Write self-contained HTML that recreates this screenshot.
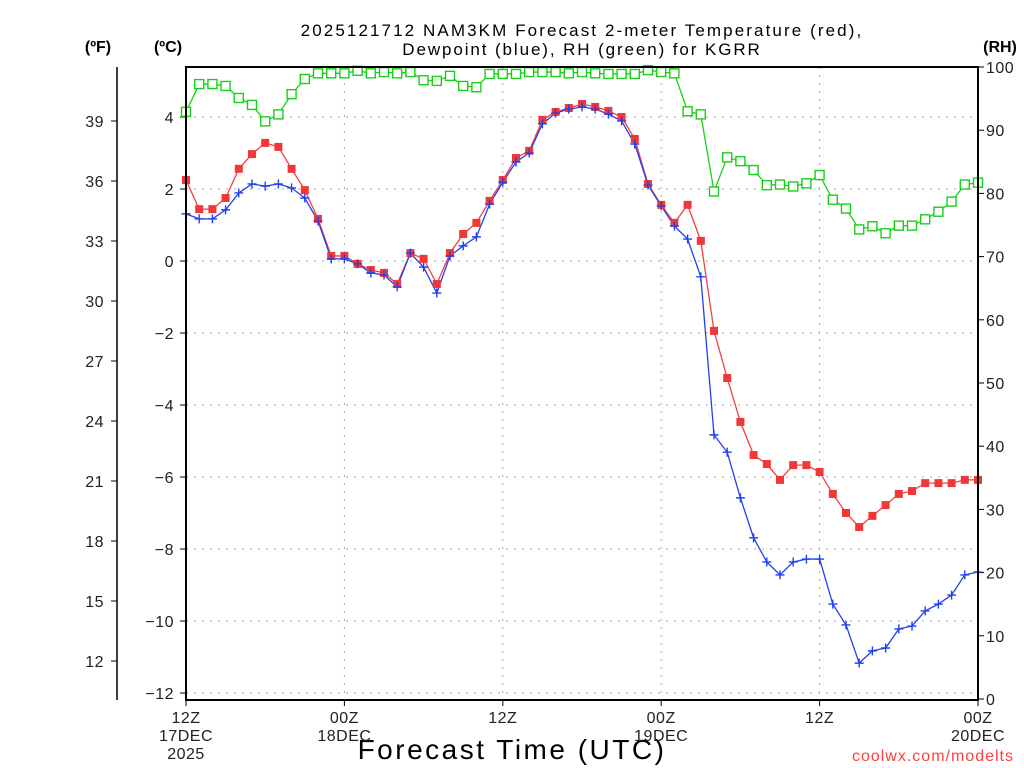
<!DOCTYPE html>
<html><head><meta charset="utf-8"><title>NAM3KM KGRR</title>
<style>html,body{margin:0;padding:0;background:#fff}svg{display:block}</style></head>
<body>
<svg id="chart" width="1024" height="768" viewBox="0 0 1024 768" xmlns="http://www.w3.org/2000/svg" font-family="Liberation Sans, sans-serif">
<rect width="1024" height="768" fill="#fff"/>
<text x="582" y="36" text-anchor="middle" font-size="17" letter-spacing="2.1" fill="#000">2025121712 NAM3KM Forecast 2-meter Temperature (red),</text>
<text x="582" y="55" text-anchor="middle" font-size="17" letter-spacing="1.9" fill="#000">Dewpoint (blue), RH (green) for KGRR</text>
<text x="98" y="52" text-anchor="middle" font-size="16" font-weight="bold">(ºF)</text>
<text x="168" y="52" text-anchor="middle" font-size="16" font-weight="bold">(ºC)</text>
<text x="1000" y="52" text-anchor="middle" font-size="16" font-weight="bold">(RH)</text>
<text x="512" y="759" text-anchor="middle" font-size="28" letter-spacing="2.5">Forecast Time (UTC)</text>
<text x="1014" y="761" text-anchor="end" font-size="16" fill="#ff4040" letter-spacing="1">coolwx.com/modelts</text>
<g id="grid"></g><g id="axes"></g><g id="series"></g>
<rect x="186" y="67" width="792" height="633" fill="none" stroke="#000" stroke-width="2"/>
</svg>
<script>
const temps=[2.25,1.44,1.44,1.75,2.56,2.97,3.28,3.17,2.56,1.97,1.17,0.14,0.14,-0.08,-0.25,-0.33,-0.64,0.22,0.06,-0.64,0.22,0.75,1.06,1.67,2.25,2.86,3.06,3.92,4.14,4.25,4.36,4.28,4.17,4.0,3.39,2.14,1.56,1.06,1.56,0.56,-1.94,-3.25,-4.47,-5.39,-5.64,-6.08,-5.67,-5.67,-5.86,-6.47,-7.0,-7.39,-7.08,-6.78,-6.47,-6.39,-6.17,-6.17,-6.17,-6.08,-6.08];
const dewpoints=[1.31,1.17,1.17,1.42,1.89,2.14,2.08,2.14,2.03,1.75,1.11,0.06,0.06,-0.08,-0.33,-0.39,-0.72,0.22,-0.17,-0.89,0.14,0.42,0.67,1.58,2.19,2.75,3.0,3.81,4.11,4.22,4.28,4.22,4.08,3.89,3.25,2.11,1.53,0.97,0.61,-0.44,-4.83,-5.31,-6.58,-7.69,-8.36,-8.72,-8.36,-8.28,-8.28,-9.53,-10.11,-11.17,-10.83,-10.75,-10.22,-10.14,-9.72,-9.53,-9.28,-8.72,-8.64];
const rh=[92.9,97.3,97.3,97.0,95.1,94.0,91.4,92.5,95.7,98.1,99.0,99.0,99.0,99.4,99.0,99.2,99.0,99.2,97.9,97.8,98.6,97.0,96.8,98.9,98.9,98.9,99.2,99.2,99.2,99.0,99.2,99.0,98.9,98.9,98.9,99.5,99.2,99.0,93.0,92.5,80.3,85.7,85.1,83.7,81.3,81.4,81.1,81.6,82.9,79.0,77.6,74.3,74.8,73.7,74.9,74.9,75.9,77.1,78.7,81.4,81.7];
const celsiusTicks=[4,2,0,-2,-4,-6,-8,-10,-12];
const fahrenheitTicks=[39,36,33,30,27,24,21,18,15,12];
const rhTicks=[0,10,20,30,40,50,60,70,80,90,100];
const timeTicks=[0,12,24,36,48,60];
const timeLabels=[["12Z","17DEC","2025"],["00Z","18DEC"],["12Z"],["00Z","19DEC"],["12Z"],["00Z","20DEC"]];

const NS="http://www.w3.org/2000/svg";
const X0=186,X1=978;
const xh=h=>X0+(X1-X0)*h/60;
const yc=c=>261-36*c;
const yf=f=>yc((f-32)*5/9);
const yr=r=>699-6.32*r;
function mk(tag,attrs,parent){const e=document.createElementNS(NS,tag);for(const k in attrs)e.setAttribute(k,attrs[k]);parent.appendChild(e);return e;}
const grid=document.getElementById('grid'),axes=document.getElementById('axes'),ser=document.getElementById('series');

celsiusTicks.forEach(c=>{
  const y=yc(c);
  const g=mk('line',{x1:X0,x2:X1,y1:y,y2:y,stroke:'#aaa','stroke-dasharray':'2,6'},grid);
  
  
  const t=mk('line',{x1:X0-6,x2:X0,y1:y,y2:y,stroke:'#000'},axes);
  
  
  const l=mk('text',{x:174,y:y+6,'text-anchor':'end','font-size':16,fill:'#222','letter-spacing':0.5},axes);
  l.textContent=(c<0?'\u2212':'')+Math.abs(c);
  
  
});
const fa=mk('line',{x1:117,x2:117,y1:67,y2:700,stroke:'#000','stroke-width':1.5},axes);


fahrenheitTicks.forEach(f=>{
  const y=yf(f);
  const t=mk('line',{x1:111,x2:117,y1:y,y2:y,stroke:'#000'},axes);
  
  
  const l=mk('text',{x:104,y:y+6,'text-anchor':'end','font-size':16,fill:'#222','letter-spacing':0.5},axes);
  l.textContent=f;
  
  
});
rhTicks.forEach(r=>{
  const y=yr(r);
  const t=mk('line',{x1:X1,x2:X1+6,y1:y,y2:y,stroke:'#000'},axes);
  
  
  const l=mk('text',{x:986,y:y+6,'font-size':16,fill:'#222','letter-spacing':0.5},axes);
  l.textContent=r;
  
  
});
timeTicks.forEach((h,i)=>{
  const x=xh(h);
  if(i>0&&i<timeTicks.length-1){
    const g=mk('line',{x1:x,x2:x,y1:67,y2:700,stroke:'#aaa','stroke-dasharray':'2,6'},grid);
    
    
  }
  const t=mk('line',{x1:x,x2:x,y1:700,y2:706,stroke:'#000'},axes);
  
  
  timeLabels[i].forEach((s,j)=>{
    const l=mk('text',{x:x,y:723+j*18,'text-anchor':'middle','font-size':16,fill:'#222','letter-spacing':0.5},axes);
    l.textContent=s;
    
    
  });
});
function line(vals,yfn,color,name){
  const p=mk('polyline',{points:vals.map((v,i)=>xh(i)+','+yfn(v)).join(' '),fill:'none',stroke:color,'stroke-width':1.3},ser);
  
  
}
line(rh,yr,'#18d018','rh-line');
line(temps,yc,'#f04040','temperature-line');
line(dewpoints,yc,'#2040f0','dewpoint-line');
rh.forEach((v,i)=>{
  const m=mk('rect',{x:xh(i)-4.5,y:yr(v)-4.5,width:9,height:9,fill:'#fff',stroke:'#18d018','stroke-width':1.4},ser);
  
  
});
temps.forEach((v,i)=>{
  const m=mk('rect',{x:xh(i)-4,y:yc(v)-4,width:8,height:8,fill:'#f03838'},ser);
  
  
});
dewpoints.forEach((v,i)=>{
  const x=xh(i),y=yc(v);
  const m=mk('path',{d:`M${x-4.5},${y}H${x+4.5}M${x},${y-4.5}V${y+4.5}`,stroke:'#2040f0','stroke-width':1.4},ser);
  
  
});
</script>
</body></html>
